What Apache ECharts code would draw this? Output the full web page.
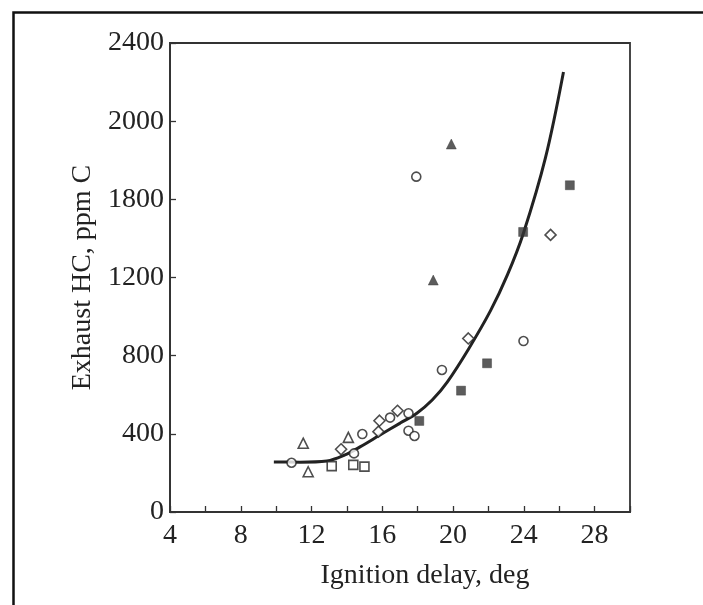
<!DOCTYPE html>
<html>
<head>
<meta charset="utf-8">
<script src="https://cdn.jsdelivr.net/npm/echarts@6/dist/echarts.min.js"></script>
<style>
html,body{margin:0;padding:0;background:#fff;}
#chart{width:703px;height:605px;}
</style>
</head>
<body>
<div id="chart"></div>
<script>
// ---- data ----
var xTickLabels = ['4', '8', '12', '16', '20', '24', '28'];
var yTickValues = [0, 400, 800, 1200, 1600, 2000, 2400];
var yTickLabels = ['0', '400', '800', '1200', '1800', '2000', '2400'];

var openCircles = [[10.87, 252], [14.40, 300], [14.87, 399], [16.44, 483], [17.48, 416], [17.82, 389], [17.48, 505], [19.37, 727], [23.98, 875], [17.92, 1716]];
var openDiamonds = [[13.67, 321], [15.78, 411], [15.84, 467], [16.86, 518], [20.86, 888], [25.51, 1418]];
var openTriangles = [[11.53, 352], [11.81, 206], [14.08, 382]];
var openSquares = [[13.14, 235], [14.36, 241], [14.99, 232]];
var filledTriangles = [[18.88, 1187], [19.90, 1883]];
var filledSquares = [[18.09, 466], [20.45, 621], [21.92, 761], [23.96, 1433], [26.60, 1672]];
var fitCurve = [[9.87, 256], [11.34, 255], [12.87, 261], [13.89, 292], [14.74, 333], [15.87, 394], [17.01, 455], [17.97, 507], [18.82, 573], [19.67, 665], [20.86, 832], [22.11, 1029], [23.07, 1213], [23.98, 1428], [25.22, 1812], [26.24, 2252]];

var ink = '#222';
var fontFam = '"Liberation Serif", "Times New Roman", "DejaVu Serif", serif';

function openSeries(data, symbol, size) {
  return {
    type: 'scatter', data: data, symbol: symbol, symbolSize: size, z: 5,
    itemStyle: { color: '#fff', borderColor: ink, borderWidth: 1.6 }
  };
}
function filledSeries(data, symbol, size) {
  return {
    type: 'scatter', data: data, symbol: symbol, symbolSize: size, z: 5,
    itemStyle: { color: '#333', borderColor: '#333', borderWidth: 0.5 }
  };
}

var chart = echarts.init(document.getElementById('chart'), null, { renderer: 'canvas' });
chart.setOption({
  backgroundColor: '#fff',
  animation: false,
  graphic: [{
    type: 'rect', left: 11, top: 10, z: 100, silent: true,
    shape: { x: 0, y: 0, width: 720, height: 620 },
    style: { fill: 'none', stroke: '#111', lineWidth: 2.5 }
  }],
  grid: {
    left: 170, top: 43, width: 460, height: 469,
    show: true, borderColor: '#333', borderWidth: 1.8, backgroundColor: 'transparent'
  },
  xAxis: {
    type: 'value', min: 4, max: 30, interval: 2,
    name: 'Ignition delay, deg', nameLocation: 'middle', nameGap: 50,
    nameTextStyle: { fontFamily: fontFam, fontSize: 28, color: '#222', padding: [0, 0, 0, 50] },
    axisLine: { show: true, lineStyle: { color: '#333', width: 1.8 } },
    axisTick: { show: true, inside: true, length: 6, lineStyle: { color: '#333', width: 1.3 } },
    axisLabel: {
      fontFamily: fontFam, fontSize: 28, color: '#222', margin: 10,
      formatter: function (v) {
        var s = String(v);
        return xTickLabels.indexOf(s) >= 0 ? s : '';
      }
    },
    splitLine: { show: false }
  },
  yAxis: {
    type: 'value', min: 0, max: 2400, interval: 400,
    name: 'Exhaust HC, ppm C', nameLocation: 'middle', nameGap: 72, nameRotate: 90,
    nameTextStyle: { fontFamily: fontFam, fontSize: 28, color: '#222' },
    axisLine: { show: true, lineStyle: { color: '#333', width: 1.8 } },
    axisTick: { show: true, inside: true, length: 6, lineStyle: { color: '#333', width: 1.3 } },
    axisLabel: {
      fontFamily: fontFam, fontSize: 28, color: '#222', margin: 6,
      formatter: function (v) {
        var i = yTickValues.indexOf(v);
        return i >= 0 ? yTickLabels[i] : '';
      }
    },
    splitLine: { show: false }
  },
  series: [
    {
      type: 'line', data: fitCurve, smooth: 0.35, showSymbol: false, z: 3,
      lineStyle: { color: ink, width: 3 }
    },
    openSeries(openCircles, 'circle', 9),
    openSeries(openDiamonds, 'diamond', 11),
    openSeries(openTriangles, 'triangle', 10),
    openSeries(openSquares, 'rect', 9),
    filledSeries(filledTriangles, 'triangle', 10),
    filledSeries(filledSquares, 'rect', 9)
  ]
});
</script>
</body>
</html>
